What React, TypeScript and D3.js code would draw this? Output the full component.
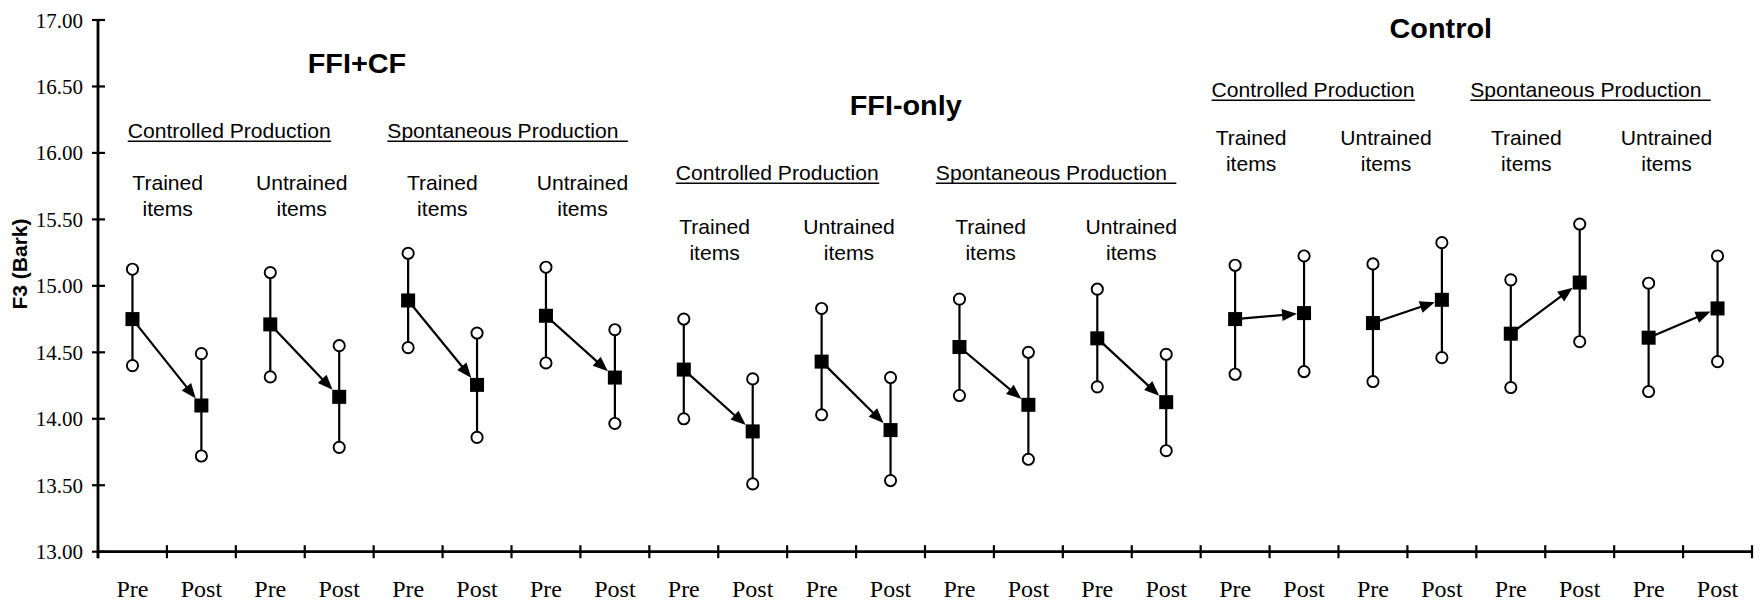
import React from "react";
import * as d3 from "d3";

// ---------- data ----------
const conditions = ["FFI+CF", "FFI-only", "Control"];
const tasks = ["Controlled Production", "Spontaneous Production"];
const itemTypes = ["Trained", "Untrained"];
const times = ["Pre", "Post"];

// 12 groups: condition x task x itemType (in that order)
const preMean = [14.75, 14.71, 14.89, 14.775, 14.37, 14.43, 14.54, 14.605, 14.75, 14.72, 14.64, 14.61];
const preUpper = [15.125, 15.10, 15.245, 15.14, 14.75, 14.83, 14.90, 14.975, 15.155, 15.165, 15.045, 15.02];
const preLower = [14.40, 14.315, 14.535, 14.42, 14.00, 14.03, 14.175, 14.24, 14.335, 14.28, 14.235, 14.205];
const postMean = [14.10, 14.165, 14.255, 14.31, 13.905, 13.915, 14.105, 14.125, 14.795, 14.895, 15.025, 14.83];
const postUpper = [14.49, 14.55, 14.645, 14.67, 14.30, 14.31, 14.50, 14.485, 15.225, 15.325, 15.465, 15.225];
const postLower = [13.72, 13.785, 13.86, 13.965, 13.51, 13.535, 13.695, 13.76, 14.355, 14.46, 14.58, 14.43];

const yTicks = [13.0, 13.5, 14.0, 14.5, 15.0, 15.5, 16.0, 16.5, 17.0];
const yTitle = "F3 (Bark)";

// ---------- layout ----------
const W = 1762;
const H = 604;
const X0 = 98;
const X1 = 1752;
const Y_TOP = 20;
const Y_BOT = 551.7;

const SANS = "'Liberation Sans', Arial, sans-serif";
const SERIF = "'Liberation Serif', 'Times New Roman', serif";

// annotation layout per condition section (slot units for x, pixels for y)
const titleU = [3.758, 11.72, 19.484];
const titleY = [73, 115, 38];
const subLeftU = [[0.431, 4.198], [8.384, 12.157], [16.158, 19.912]];
const subY = [138, 180, 97];
const itemsU = [
  [1.011, 2.956, 4.996, 7.03],
  [8.947, 10.896, 12.952, 14.993],
  [16.732, 18.689, 20.725, 22.759],
];
const itemsY = [190, 234, 145];
const sectionScale = [1.03, 1.03, 1.03];

export default function App() {
  const nSlots = preMean.length * 2;
  const x = d3.scaleBand<number>().domain(d3.range(nSlots)).range([X0, X1]).padding(0);
  const bw = x.bandwidth();
  const cx = (i: number) => (x(i) as number) + bw / 2;
  const u = d3.scaleLinear().domain([0, nSlots]).range([X0, X1]);
  const y = d3.scaleLinear().domain([13, 17]).range([Y_BOT, Y_TOP]);

  const groups = preMean.map((_, g) => ({
    g,
    pre: { x: cx(2 * g), m: preMean[g], hi: preUpper[g], lo: preLower[g] },
    post: { x: cx(2 * g + 1), m: postMean[g], hi: postUpper[g], lo: postLower[g] },
  }));

  const SQ = 14;
  const R = 5.6;
  const HEAD_L = 15;
  const HEAD_W = 6;

  const arrow = (g: (typeof groups)[number]) => {
    const x0 = g.pre.x, y0 = y(g.pre.m);
    const x1 = g.post.x, y1 = y(g.post.m);
    const dx = x1 - x0, dy = y1 - y0;
    const L = Math.hypot(dx, dy);
    const ux = dx / L, uy = dy / L;
    const t = (SQ / 2) / Math.max(Math.abs(ux), Math.abs(uy));
    const tx = x1 - ux * t, ty = y1 - uy * t;
    const bx = tx - ux * HEAD_L, by = ty - uy * HEAD_L;
    const px = -uy, py = ux;
    const head = `M${tx},${ty}L${bx + px * HEAD_W},${by + py * HEAD_W}L${bx - px * HEAD_W},${by - py * HEAD_W}Z`;
    return (
      <g key={`a${g.g}`}>
        <line x1={x0} y1={y0} x2={bx + ux * 2} y2={by + uy * 2} stroke="#000" strokeWidth={2.2} />
        <path d={head} fill="#000" />
      </g>
    );
  };

  const point = (p: { x: number; m: number; hi: number; lo: number }, key: string) => (
    <g key={key}>
      <line x1={p.x} x2={p.x} y1={y(p.hi)} y2={y(p.lo)} stroke="#000" strokeWidth={2.2} />
      <rect x={p.x - SQ / 2} y={y(p.m) - SQ / 2} width={SQ} height={SQ} fill="#000" />
      <circle cx={p.x} cy={y(p.hi)} r={R} fill="#fff" stroke="#000" strokeWidth={1.9} />
      <circle cx={p.x} cy={y(p.lo)} r={R} fill="#fff" stroke="#000" strokeWidth={1.9} />
    </g>
  );

  return (
    <svg
      width={W}
      height={H}
      viewBox={`0 0 ${W} ${H}`}
      style={{ position: "absolute", left: 0, top: 0, display: "block", background: "#fff" }}
    >
      <rect width={W} height={H} fill="#fff" />

      {/* y axis */}
      <line x1={X0} x2={X0} y1={Y_TOP - 1} y2={Y_BOT + 6.5} stroke="#000" strokeWidth={2.8} />
      {yTicks.map((t) => (
        <g key={`yt${t}`}>
          <line x1={X0 - 6} x2={X0 + 7} y1={y(t)} y2={y(t)} stroke="#000" strokeWidth={2.2} />
          <text x={83} y={y(t)} dy="0.36em" textAnchor="end" fontFamily={SERIF} fontSize={21} fill="#000">
            {t.toFixed(2)}
          </text>
        </g>
      ))}
      <text
        transform={`translate(20,${264}) rotate(-90)`}
        textAnchor="middle"
        dy="0.35em"
        fontFamily={SANS}
        fontWeight="bold"
        fontSize={21}
        fill="#000"
      >
        {yTitle}
      </text>

      {/* x axis */}
      <line x1={X0} x2={X1} y1={Y_BOT} y2={Y_BOT} stroke="#000" strokeWidth={2.8} />
      {d3.range(nSlots + 1).map((i) => (
        <line key={`xt${i}`} x1={u(i)} x2={u(i)} y1={Y_BOT - 6.5} y2={Y_BOT + 6.5} stroke="#000" strokeWidth={2.2} />
      ))}
      {d3.range(nSlots).map((i) => (
        <text key={`xl${i}`} x={cx(i)} y={596.5} textAnchor="middle" fontFamily={SERIF} fontSize={24} fill="#000">
          {times[i % 2]}
        </text>
      ))}

      {/* annotations */}
      {conditions.map((c, ci) => {
        const s = sectionScale[ci];
        return (
          <g key={`sec${ci}`}>
            <text
              transform={`translate(${u(titleU[ci])},${titleY[ci]}) scale(${s},1)`}
              textAnchor="middle"
              fontFamily={SANS}
              fontWeight="bold"
              fontSize={28}
              fill="#000"
            >
              {c}
            </text>
            {tasks.map((tk, ti) => {
              const lx = u(subLeftU[ci][ti]);
              const approxW = (ti === 1 ? 233.5 : 197.5) * s;
              return (
                <g key={`tk${ti}`}>
                  <text
                    transform={`translate(${lx},${subY[ci]}) scale(${s},1)`}
                    fontFamily={SANS}
                    fontSize={20.5}
                    fill="#000"
                  >
                    {tk}
                  </text>
                  <line x1={lx} x2={lx + approxW} y1={subY[ci] + 3.2} y2={subY[ci] + 3.2} stroke="#000" strokeWidth={1.6} />
                </g>
              );
            })}
            {itemsU[ci].map((iu, k) => (
              <text
                key={`it${k}`}
                transform={`translate(${u(iu)},${itemsY[ci]}) scale(${s},1)`}
                textAnchor="middle"
                fontFamily={SANS}
                fontSize={20.5}
                fill="#000"
              >
                <tspan x={0} y={0}>{itemTypes[k % 2]}</tspan>
                <tspan x={0} y={26.5}>items</tspan>
              </text>
            ))}
          </g>
        );
      })}

      {/* marks */}
      {groups.map((g) => arrow(g))}
      {groups.map((g) => (
        <g key={`p${g.g}`}>
          {point(g.pre, `pre${g.g}`)}
          {point(g.post, `post${g.g}`)}
        </g>
      ))}
    </svg>
  );
}
